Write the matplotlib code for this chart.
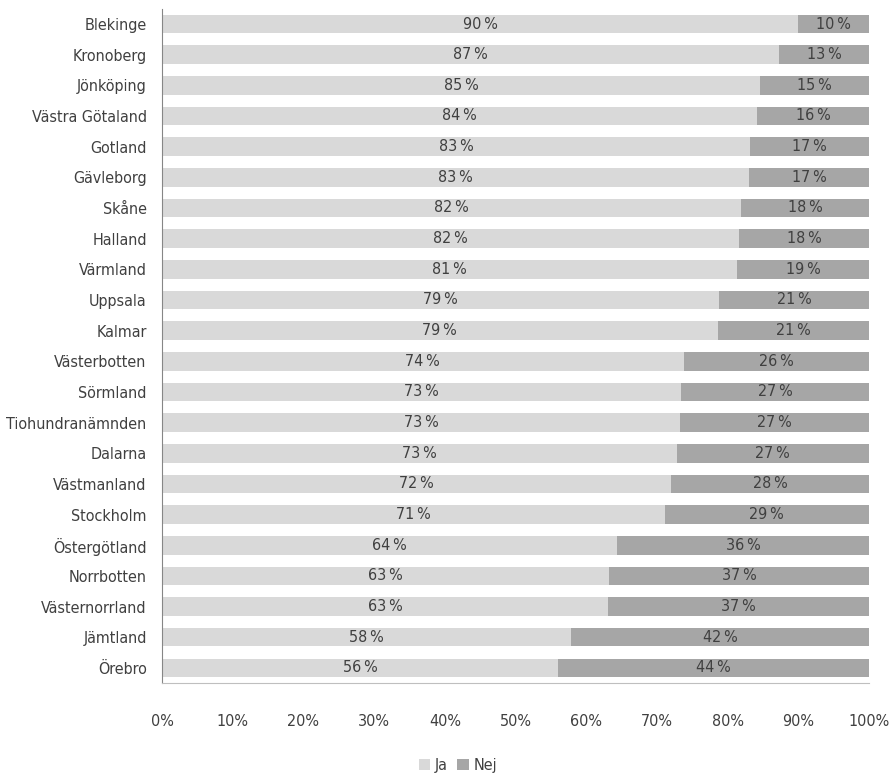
import matplotlib.pyplot as plt

# Data (share answering "Ja"); "Nej" is the rest
regions = ['Blekinge', 'Kronoberg', 'Jönköping', 'Västra Götaland', 'Gotland',
           'Gävleborg', 'Skåne', 'Halland', 'Värmland', 'Uppsala', 'Kalmar',
           'Västerbotten', 'Sörmland', 'Tiohundranämnden', 'Dalarna',
           'Västmanland', 'Stockholm', 'Östergötland', 'Norrbotten',
           'Västernorrland', 'Jämtland', 'Örebro']
ja = [89.96, 87.3, 84.6, 84.2, 83.2, 83.0, 81.9, 81.6, 81.3, 78.8, 78.6,
      73.8, 73.4, 73.3, 72.8, 72.0, 71.1, 64.4, 63.2, 63.1, 57.9, 56.0]
nej = [100 - v for v in ja]
xticks = [0, 10, 20, 30, 40, 50, 60, 70, 80, 90, 100]

COLORS = {'ja': '#d9d9d9', 'nej': '#a6a6a6'}
TEXT = '#404040'

plt.rcParams['font.family'] = ['DejaVu Sans']
plt.rcParams['font.stretch'] = 'condensed'
plt.rcParams['font.size'] = 11.5

fig = plt.figure(figsize=(8.91, 7.81), dpi=100)
ax = fig.add_axes([0.1818, 0.1251, 0.7935, 0.8638])

y = list(range(len(regions)))
ax.barh(y, ja, height=0.6, color=COLORS['ja'], label='Ja')
ax.barh(y, nej, left=ja, height=0.6, color=COLORS['nej'], label='Nej')

for i in y:
    ax.text(ja[i] / 2, i, f'{round(ja[i])}\u2009%', ha='center', va='center',
            color=TEXT)
    ax.text(ja[i] + nej[i] / 2, i, f'{round(nej[i])}\u2009%', ha='center',
            va='center', color=TEXT)

ax.set_ylim(len(regions) - 0.5, -0.5)
ax.set_xlim(0, 100)
ax.set_yticks(y)
ax.set_yticklabels(regions, color=TEXT)
ax.set_xticks(xticks)
ax.set_xticklabels([f'{t}%' for t in xticks], color=TEXT)
ax.tick_params(axis='both', length=0)
ax.tick_params(axis='x', pad=22)
ax.tick_params(axis='y', pad=11)

for side in ['top', 'right']:
    ax.spines[side].set_visible(False)
ax.spines['left'].set_color('#868686')
ax.spines['bottom'].set_color('#bfbfbf')

fig.legend(loc='center', bbox_to_anchor=(0.514, 0.02), ncol=2, frameon=False,
           handlelength=0.7, handleheight=0.7, handletextpad=0.3,
           columnspacing=0.6, labelcolor=TEXT)

fig.savefig('out.png', dpi=100)
